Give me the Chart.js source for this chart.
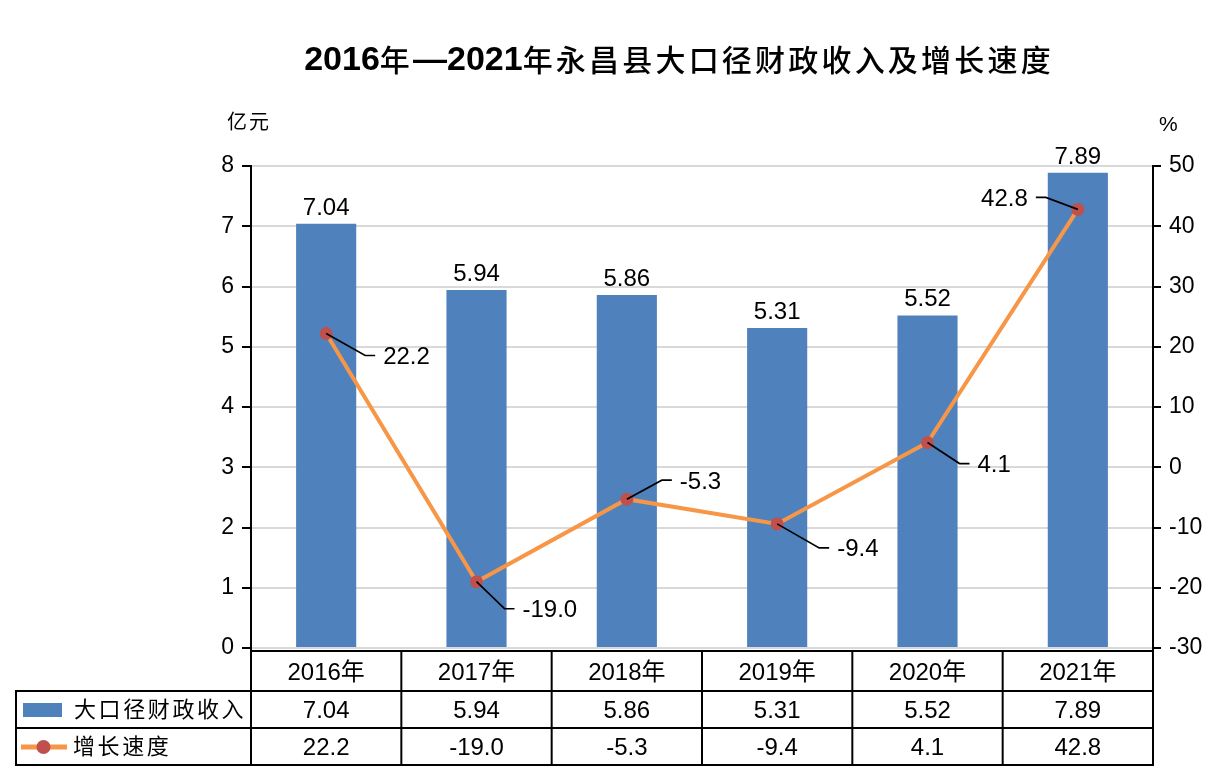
<!DOCTYPE html>
<html><head><meta charset="utf-8">
<script src="https://cdn.jsdelivr.net/npm/chart.js@4.4.0/dist/chart.umd.min.js"></script>
<style>html,body{margin:0;padding:0;background:#fff;}#wrap{width:1226px;height:780px;}</style>
</head><body><div id="wrap"><canvas id="c" width="1226" height="780"></canvas></div>
<script>
const categories = ['2016年','2017年','2018年','2019年','2020年','2021年'];
const revenue = [7.04, 5.94, 5.86, 5.31, 5.52, 7.89];
const growth = [22.2, -19.0, -5.3, -9.4, 4.1, 42.8];
const revenueTicks = [0,1,2,3,4,5,6,7,8];
const growthTicks = [-30,-20,-10,0,10,20,30,40,50];
const seriesNames = ['大口径财政收入','增长速度'];
const titleParts = [['2016','d'],['年','c'],['—','d'],['2021','d'],['年','c'],['永昌县大口径财政收入及增长速度','c']];
const leftUnit = '亿元';
const rightUnit = '%';
// leader-line elbow offsets for growth labels (style only)
const growthLabelOffsets = [[39,22],[28,27],[35,-19],[42,24],[32,21],[-32,-12]];

const BLUE = '#4F81BD', ORANGE = '#F79646', RED = '#C0504D';
const LAT = "'Liberation Sans', Arial, 'Noto Sans CJK SC', sans-serif";
const CJK = "'Noto Sans CJK SC', sans-serif";

const drawPlugin = {
  id: 'custom',
  afterDraw(chart) {
    const ctx = chart.ctx, ca = chart.chartArea;
    ctx.save();
    ctx.fillStyle = '#000';
    // title
    const fontD = 'bold 34px ' + LAT, fontC = '500 30px ' + CJK;
    let total = 0;
    const widths = titleParts.map(([t,k]) => {
      ctx.font = k === 'd' ? fontD : fontC;
      ctx.letterSpacing = k === 'd' ? '0px' : '3.2px';
      const w = ctx.measureText(t).width; total += w; return w;
    });
    let tx = 679 - total / 2;
    ctx.textAlign = 'left'; ctx.textBaseline = 'alphabetic';
    titleParts.forEach(([t,k], i) => {
      ctx.font = k === 'd' ? fontD : fontC;
      ctx.letterSpacing = k === 'd' ? '0px' : '3.2px';
      ctx.fillText(t, tx, k === 'd' ? 70 : 71);
      tx += widths[i];
    });
    // units
    ctx.font = '20px ' + CJK; ctx.letterSpacing = '2px';
    ctx.textBaseline = 'middle';
    ctx.fillText(leftUnit, 227, 121);
    ctx.letterSpacing = '0px';
    ctx.font = '21px ' + LAT;
    ctx.fillText(rightUnit, 1159, 125);

    // bar labels
    ctx.font = '24px ' + LAT; ctx.textAlign = 'center'; ctx.textBaseline = 'alphabetic';
    const barMeta = chart.getDatasetMeta(0);
    barMeta.data.forEach((el, i) => {
      ctx.fillText(revenue[i].toFixed(2), el.x, el.y - 9);
    });
    // line labels with leaders
    const lineMeta = chart.getDatasetMeta(1);
    ctx.strokeStyle = '#000'; ctx.lineWidth = 1.7;
    lineMeta.data.forEach((el, i) => {
      const [dx, dy] = growthLabelOffsets[i];
      const ex = el.x + dx, ey = el.y + dy;
      const dir = dx >= 0 ? 1 : -1;
      ctx.beginPath();
      ctx.moveTo(el.x, el.y); ctx.lineTo(ex, ey); ctx.lineTo(ex + dir * 10, ey);
      ctx.stroke();
      ctx.textAlign = dir > 0 ? 'left' : 'right';
      ctx.fillText(growth[i].toFixed(1), ex + dir * 18, ey + 8.5);
    });

    // data table
    const n = categories.length;
    const colW = (ca.right - ca.left) / n;
    const tTop = ca.bottom + 3, r1 = ca.bottom + 43, r2 = ca.bottom + 80, tBot = ca.bottom + 117, tLeft = 16;
    ctx.strokeStyle = '#000'; ctx.lineWidth = 2;
    const ln = (a,b,c,d) => { ctx.beginPath(); ctx.moveTo(a,b); ctx.lineTo(c,d); ctx.stroke(); };
    ln(ca.left - 1, tTop, ca.right + 1, tTop);
    ln(tLeft - 1, r1, ca.right + 1, r1);
    ln(tLeft - 1, r2, ca.right + 1, r2);
    ln(tLeft - 1, tBot, ca.right + 1, tBot);
    ln(tLeft, r1, tLeft, tBot);
    for (let i = 0; i <= n; i++) {
      const xx = ca.left + i * colW;
      ln(xx, (i === 0 || i === n) ? ca.bottom : tTop, xx, tBot);
    }
    ctx.textAlign = 'center'; ctx.textBaseline = 'alphabetic';
    ctx.font = '24px ' + LAT;
    const xs = chart.scales.x;
    categories.forEach((c, i) => {
      const cx = xs.getPixelForValue(i);
      ctx.fillText(c, cx, tTop + 29);
      ctx.fillText(revenue[i].toFixed(2), cx, r1 + 27);
      ctx.fillText(growth[i].toFixed(1), cx, r2 + 27);
    });
    // legend keys
    ctx.fillStyle = BLUE;
    ctx.fillRect(23, r1 + 12, 39, 14);
    ctx.strokeStyle = ORANGE; ctx.lineWidth = 5;
    ln(21, r2 + 19, 67, r2 + 19);
    ctx.fillStyle = RED;
    ctx.beginPath(); ctx.arc(43.5, r2 + 19, 7, 0, Math.PI * 2); ctx.fill();
    ctx.fillStyle = '#000';
    ctx.font = '22px ' + CJK; ctx.letterSpacing = '2.6px';
    ctx.textAlign = 'left'; ctx.textBaseline = 'middle';
    ctx.fillText(seriesNames[0], 74, r1 + 18);
    ctx.fillText(seriesNames[1], 73, r2 + 18);
    ctx.letterSpacing = '0px';
    ctx.restore();
  }
};

new Chart(document.getElementById('c'), {
  data: {
    labels: categories,
    datasets: [
      { type: 'bar', label: seriesNames[0], data: revenue, yAxisID: 'y',
        backgroundColor: BLUE, barPercentage: 0.4, categoryPercentage: 1, order: 2 },
      { type: 'line', label: seriesNames[1], data: growth, yAxisID: 'y1',
        borderColor: ORANGE, borderWidth: 4, pointRadius: 6.5, pointHoverRadius: 6.5,
        pointBackgroundColor: RED, pointBorderWidth: 0, tension: 0, order: 1 }
    ]
  },
  options: {
    responsive: false, animation: false,
    layout: { padding: { top: 166, bottom: 132, left: 0, right: 0 } },
    plugins: { legend: { display: false }, tooltip: { enabled: false }, title: { display: false } },
    scales: {
      x: { display: false, offset: true },
      y: {
        position: 'left', min: 0, max: 8,
        afterBuildTicks: s => { s.ticks = revenueTicks.map(v => ({ value: v })); },
        afterFit: s => { s.width = 251; },
        grid: { color: '#D9D9D9', lineWidth: 2, tickColor: '#000', tickLength: 9, drawOnChartArea: true },
        border: { color: '#000', width: 2 },
        ticks: { color: '#000', font: { family: LAT, size: 23 }, padding: 8 }
      },
      y1: {
        position: 'right', min: -30, max: 50,
        afterBuildTicks: s => { s.ticks = growthTicks.map(v => ({ value: v })); },
        afterFit: s => { s.width = 73; },
        grid: { drawOnChartArea: false, tickColor: '#000', lineWidth: 2, tickLength: 8 },
        border: { color: '#000', width: 2 },
        ticks: { color: '#000', font: { family: LAT, size: 23 }, padding: 8 }
      }
    }
  },
  plugins: [drawPlugin]
});
</script></body></html>
